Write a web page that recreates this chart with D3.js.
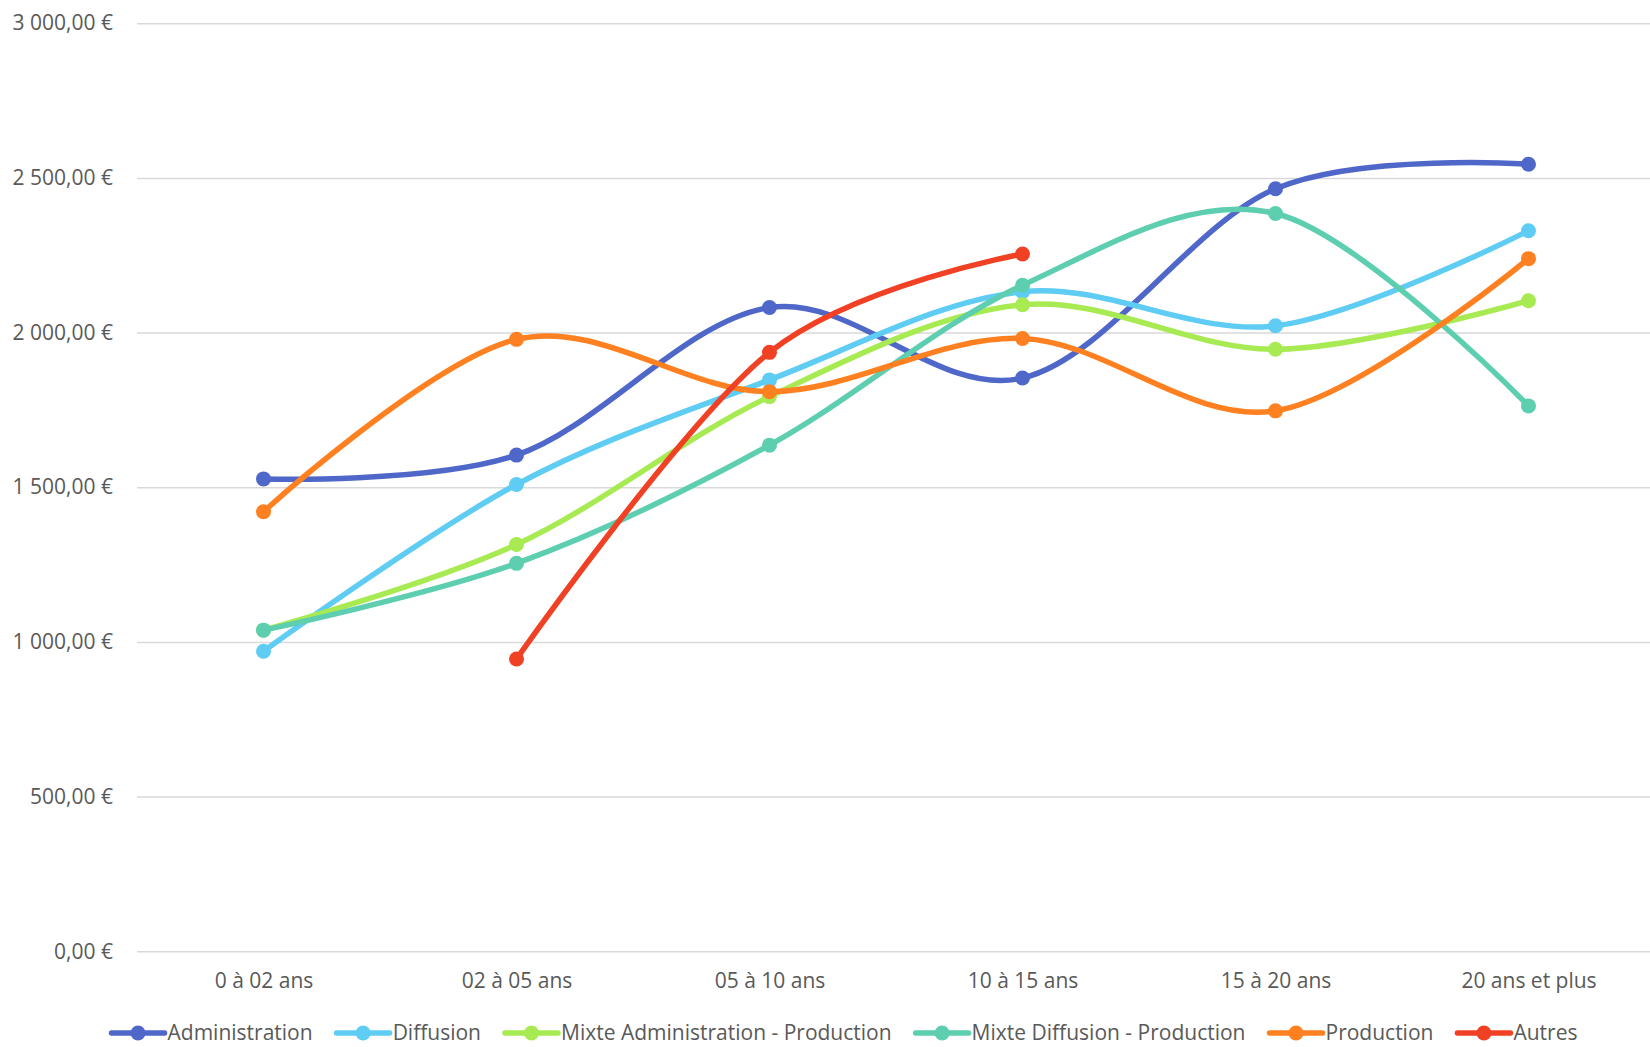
<!DOCTYPE html>
<html>
<head>
<meta charset="utf-8">
<script src="https://cdn.jsdelivr.net/npm/d3@7"></script>
<style>
  body { margin: 0; background: #fff; overflow: hidden; }
  svg { display: block; }
  text { font-family: "Open Sans", "Noto Sans", sans-serif; fill: #595959; }
</style>
</head>
<body>
<div id="chart"></div>
<script>
// categories (x axis)
const categories = ["0 à 02 ans", "02 à 05 ans", "05 à 10 ans", "10 à 15 ans", "15 à 20 ans", "20 ans et plus"];

// series values (null = no value)
const administration = [1527, 1604, 2081, 1853, 2465, 2544];
const diffusion = [970, 1509, 1847, 2132, 2022, 2329];
const mixteAdminProd = [1038, 1315, 1793, 2090, 1946, 2103];
const mixteDiffProd = [1038, 1254, 1636, 2153, 2385, 1763];
const production = [1421, 1978, 1809, 1981, 1747, 2239];
const autres = [null, 945, 1936, 2254, null, null];

const seriesNames = ["Administration", "Diffusion", "Mixte Administration - Production", "Mixte Diffusion - Production", "Production", "Autres"];
const seriesColors = ["#4e67c8", "#5eccf3", "#a7ea52", "#5dceaf", "#ff8021", "#f14124"];
const yTicks = [0, 500, 1000, 1500, 2000, 2500, 3000];

const series = seriesNames.map(function(name, i){
  return {name: name, color: seriesColors[i],
          values: [administration, diffusion, mixteAdminProd, mixteDiffProd, production, autres][i]};
});

const width = 1650, height = 1047;
const fontSize = 21;

const svg = d3.select("#chart").append("svg")
    .attr("width", width)
    .attr("height", height);

const x = d3.scalePoint().domain(categories).range([137, 1655]).padding(0.5);
const y = d3.scaleLinear().domain([0, 3000]).range([951.3, 23.2]);

const fr = d3.formatLocale({decimal: ",", thousands: "\u00a0", grouping: [3], currency: ["", "\u00a0€"]});
const fmt = fr.format("$,.2f");

// gridlines + y labels
const yAxis = d3.axisLeft(y).tickValues(yTicks).tickSize(-(width - 137)).tickFormat(fmt).tickPadding(24);
const gy = svg.append("g").attr("transform", "translate(137,0)").call(yAxis);
gy.select(".domain").remove();
gy.selectAll(".tick line").attr("stroke", "#d9d9d9").attr("stroke-width", 1.5);
gy.selectAll(".tick text").attr("font-size", fontSize).style("fill", "#595959");

// x labels
const xAxis = d3.axisBottom(x).tickSize(0).tickPadding(22);
const gx = svg.append("g").attr("transform", "translate(0,951.3)").call(xAxis);
gx.select(".domain").remove();
gx.selectAll(".tick text").attr("font-size", fontSize).style("fill", "#595959");

const line = d3.line()
    .defined(function(d){ return d != null; })
    .x(function(d, i){ return x(categories[i]); })
    .y(function(d){ return y(d); })
    .curve(d3.curveCardinal.tension(0));

const gs = svg.append("g");
series.forEach(function(s){
  gs.append("path")
    .attr("d", line(s.values))
    .attr("fill", "none")
    .attr("stroke", s.color)
    .attr("stroke-width", 5.5)
    .attr("stroke-linecap", "round");
  gs.selectAll(null)
    .data(s.values.map(function(v, i){ return {v: v, c: categories[i]}; }).filter(function(d){ return d.v != null; }))
    .join("circle")
    .attr("cx", function(d){ return x(d.c); })
    .attr("cy", function(d){ return y(d.v); })
    .attr("r", 7.5)
    .attr("fill", s.color);
});

// legend, centered
const legend = svg.append("g");
let pos = 0;
series.forEach(function(s){
  const g = legend.append("g");
  g.append("line").attr("x1", 0).attr("x2", 53).attr("y1", 0).attr("y2", 0)
    .attr("stroke", s.color).attr("stroke-width", 5.5).attr("stroke-linecap", "round");
  g.append("circle").attr("cx", 26.5).attr("cy", 0).attr("r", 7.5).attr("fill", s.color);
  const t = g.append("text").attr("x", 56).attr("y", 0).attr("dy", "0.35em")
    .attr("font-size", fontSize).text(s.name);
  const w = 56 + t.node().getComputedTextLength();
  g.attr("transform", "translate(" + pos + ",0)");
  pos += w + 24;
});
const total = pos - 24;
legend.attr("transform", "translate(" + (844.5 - total / 2) + ",1033)");
</script>
</body>
</html>
